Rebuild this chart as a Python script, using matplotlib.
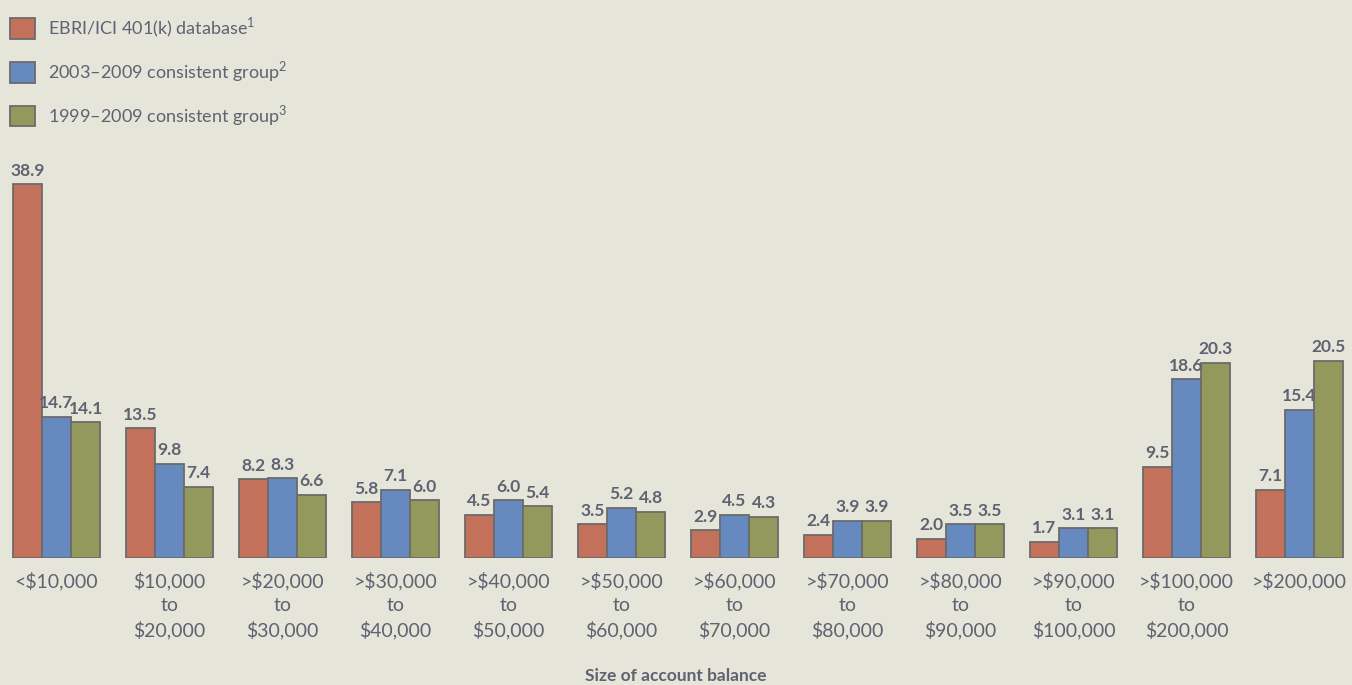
import numpy as np
import matplotlib
matplotlib.use('Agg')
import matplotlib.pyplot as plt

categories = ['<$10,000', '$10,000\nto\n$20,000', '>$20,000\nto\n$30,000',
              '>$30,000\nto\n$40,000', '>$40,000\nto\n$50,000', '>$50,000\nto\n$60,000',
              '>$60,000\nto\n$70,000', '>$70,000\nto\n$80,000', '>$80,000\nto\n$90,000',
              '>$90,000\nto\n$100,000', '>$100,000\nto\n$200,000', '>$200,000']
ebri = [38.9, 13.5, 8.2, 5.8, 4.5, 3.5, 2.9, 2.4, 2.0, 1.7, 9.5, 7.1]
group_0309 = [14.7, 9.8, 8.3, 7.1, 6.0, 5.2, 4.5, 3.9, 3.5, 3.1, 18.6, 15.4]
group_9909 = [14.1, 7.4, 6.6, 6.0, 5.4, 4.8, 4.3, 3.9, 3.5, 3.1, 20.3, 20.5]
series_names = ['EBRI/ICI 401(k) database$^{1}$',
                '2003\u20132009 consistent group$^{2}$',
                '1999\u20132009 consistent group$^{3}$']

bg = '#e5e5da'
txt = '#5f6270'
edge = '#6b6b6b'
colors = ['#c4715b', '#6689c0', '#93985c']

plt.rcParams['font.family'] = ['Lato', 'DejaVu Sans']
plt.rcParams['mathtext.fontset'] = 'custom'
plt.rcParams['mathtext.rm'] = 'Lato'

fig = plt.figure(figsize=(13.52, 6.85), dpi=100, facecolor=bg)
ax = fig.add_axes([12 / 1352, 127 / 685, 1332 / 1352, 408 / 685])
ax.set_facecolor(bg)

x = np.arange(len(categories))
w = 29.3 / 113
bars = []
for i, (vals, c, name) in enumerate(zip([ebri, group_0309, group_9909], colors, series_names)):
    b = ax.bar(x + (i - 1) * w, vals, w, color=c, edgecolor=edge, linewidth=1.3, label=name)
    ax.bar_label(b, labels=['%.1f' % v for v in vals], padding=4, fontsize=12.5,
                 fontweight='bold', color=txt)
    bars.append(b)

ax.set_xlim(-1.5 * w - 0.005, 11 + 1.5 * w + 0.005)
ax.set_ylim(0, 408 / 9.61)
ax.set_xticks(x)
ax.set_xticklabels(categories, fontsize=14, color=txt, linespacing=1.45, va='top')
ax.tick_params(axis='x', length=0, pad=10)
ax.set_yticks([])
for s in ax.spines.values():
    s.set_visible(False)

fig.text(0.5, 0.002, 'Size of account balance', ha='center', va='bottom',
         fontsize=12.5, fontweight='bold', color=txt)

leg = fig.legend(handles=bars, labels=series_names, loc='upper left',
                 bbox_to_anchor=(3 / 1352, 1 - 9 / 685), frameon=False, fontsize=13,
                 handlelength=1.38, handleheight=1.38, handletextpad=0.7,
                 labelspacing=1.05, borderaxespad=0)
for t in leg.get_texts():
    t.set_color(txt)

fig.savefig('out.png', dpi=100, facecolor=bg)
